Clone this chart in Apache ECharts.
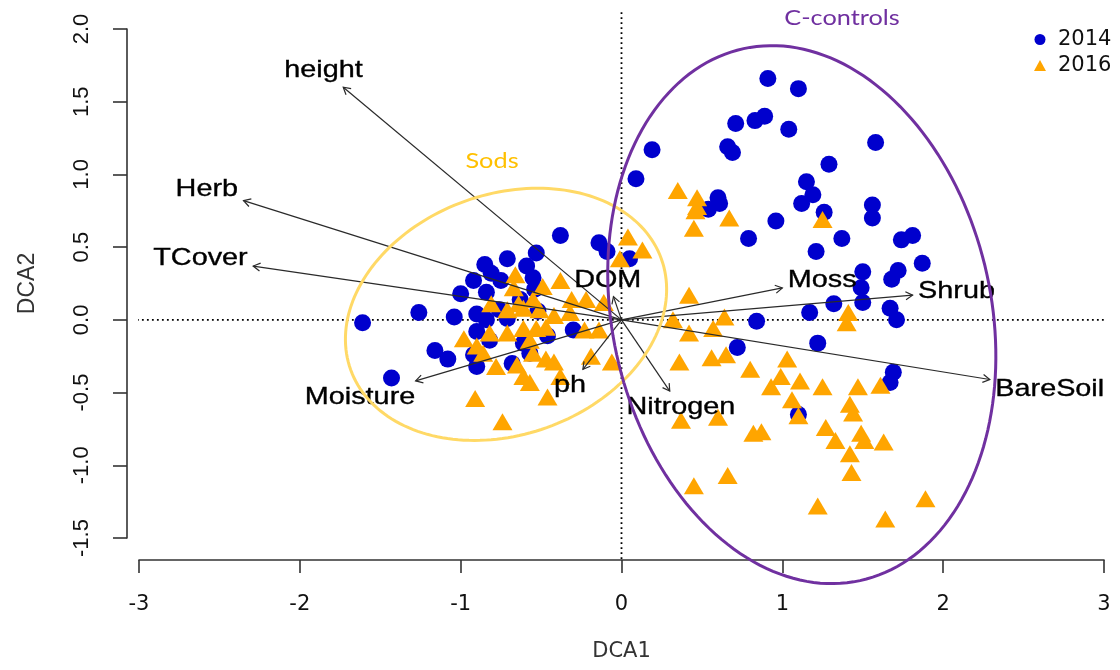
<!DOCTYPE html>
<html>
<head>
<meta charset="utf-8">
<title>DCA ordination</title>
<script src="https://cdn.jsdelivr.net/npm/echarts@6/dist/echarts.min.js"></script>
<style>
  html, body { margin: 0; padding: 0; background: #ffffff; }
  #chart { width: 1120px; height: 670px; }
</style>
</head>
<body>
<div id="chart"></div>
<script>
// ---- DCA site scores (DCA1, DCA2) ----
const sites2014 = [
  [0.91,1.66],[1.10,1.59],[0.89,1.40],[0.83,1.37],[0.71,1.35],[1.04,1.31],[0.19,1.17],[0.66,1.19],
  [0.69,1.15],[1.58,1.22],[1.29,1.07],[0.09,0.97],[1.15,0.95],[1.19,0.86],[1.12,0.80],[0.60,0.84],
  [0.61,0.80],[0.54,0.76],[1.26,0.74],[1.56,0.79],[1.56,0.70],[0.96,0.68],[0.79,0.56],[1.37,0.56],
  [1.74,0.55],[1.81,0.58],[1.21,0.47],[1.87,0.39],[1.50,0.33],[1.72,0.34],[1.68,0.28],[1.49,0.22],
  [1.32,0.11],[1.50,0.12],[1.17,0.05],[1.67,0.08],[1.71,0.00],[0.84,-0.01],[1.22,-0.16],[0.72,-0.19],
  [1.69,-0.36],[1.67,-0.43],[1.10,-0.65],[-0.38,0.58],[-0.14,0.53],[-0.09,0.47],[0.05,0.42],
  [-1.61,-0.02],[-1.26,0.05],[-1.04,0.02],[-1.43,-0.40],[-1.16,-0.21],[-1.08,-0.27],[-0.85,0.38],
  [-0.71,0.42],[-0.53,0.46],[-0.59,0.37],[-0.92,0.27],[-1.00,0.18],[-0.81,0.32],[-0.75,0.27],
  [-0.55,0.29],[-0.84,0.19],[-0.90,0.04],[-0.76,0.07],[-0.71,0.01],[-0.30,-0.07],[-0.90,-0.08],
  [-0.82,-0.14],[-0.61,-0.16],[-0.90,-0.32],[-0.68,-0.30],[-0.57,-0.23],[-0.46,-0.11],[-0.52,0.06],
  [-0.84,0.00],[-0.63,0.14],[-0.54,0.21],[-0.92,-0.24]
];
const sites2016 = [
  [0.35,0.89],[0.47,0.84],[0.47,0.78],[0.46,0.75],[0.67,0.70],[0.45,0.63],[1.25,0.69],[0.04,0.57],
  [0.13,0.48],[-0.01,0.42],[0.42,0.17],[0.32,0.00],[0.64,0.02],[1.41,0.05],[1.40,-0.02],[0.42,-0.09],
  [0.57,-0.06],[0.65,-0.24],[0.56,-0.26],[0.36,-0.29],[1.03,-0.27],[0.80,-0.34],[0.99,-0.39],[0.93,-0.46],
  [1.11,-0.42],[1.25,-0.46],[1.47,-0.46],[1.61,-0.45],[1.06,-0.55],[1.42,-0.58],[1.44,-0.64],[1.10,-0.66],
  [0.37,-0.69],[0.60,-0.67],[0.87,-0.77],[0.82,-0.78],[1.27,-0.74],[1.49,-0.78],[1.33,-0.83],[1.51,-0.83],
  [1.63,-0.84],[1.42,-0.92],[1.43,-1.05],[0.66,-1.07],[0.45,-1.14],[1.89,-1.23],[1.22,-1.28],[1.64,-1.37],
  [-0.66,0.31],[-0.38,0.27],[-0.49,0.23],[-0.67,0.22],[-0.31,0.14],[-0.22,0.14],[-0.11,0.12],[-0.81,0.11],
  [-0.64,0.11],[-0.55,0.14],[-0.61,0.08],[-0.51,0.07],[-0.42,0.03],[-0.32,0.05],[-0.71,0.07],[-0.98,-0.13],
  [-0.90,-0.18],[-0.82,-0.09],[-0.71,-0.09],[-0.61,-0.06],[-0.53,-0.06],[-0.57,-0.14],[-0.47,-0.05],
  [-0.23,-0.07],[-0.14,-0.07],[-0.86,-0.23],[-0.78,-0.32],[-0.65,-0.31],[-0.55,-0.23],[-0.47,-0.27],
  [-0.42,-0.29],[-0.19,-0.25],[-0.06,-0.29],[-0.61,-0.39],[-0.57,-0.43],[-0.38,-0.39],[-0.46,-0.53],
  [-0.91,-0.54],[-0.74,-0.70]
];

// ---- fitted environmental vectors (arrow tips) ----
const vectorNames = ['height', 'Herb', 'TCover', 'DOM', 'Moss', 'Shrub', 'BareSoil', 'Nitrogen', 'ph', 'Moisture'];
const vectorX = [-1.73, -2.35, -2.29, -0.05, 1.00, 1.81, 2.29, 0.30, -0.24, -1.28];
const vectorY = [ 1.60,  0.82,  0.37,  0.16, 0.22, 0.17, -0.41, -0.49, -0.34, -0.42];

// ---- axes ----
const xTicks = [-3, -2, -1, 0, 1, 2, 3];
const yTicks = [-1.5, -1.0, -0.5, 0.0, 0.5, 1.0, 1.5, 2.0];
const plotRegionX = [-3.075, 3.075];
const plotRegionY = [-1.644, 2.123];

// ---- group outlines: centre and the two semi-axis vectors (data units) ----
const groupNames = ['Sods', 'C-controls'];
const groupCentres = [[-0.718, 0.038], [1.121, 0.036]];
const groupAxisA = [[0.966, 0.381], [-0.362, 1.829]];
const groupAxisB = [[0.253, -0.779], [1.151, 0.276]];
const groupLabelAt = [[-0.805, 1.096], [1.371, 2.075]];

// ---- styling ----
const BLUE = '#0000CD';
const ORANGE = '#FFA500';
const SODS_COLOR = '#FFD966';
const SODS_TEXT = '#FFC000';
const CTRL_COLOR = '#7030A0';
const INK = '#111111';
const LABEL_FONT_SIZE = 24;
const LABEL_FONT_FAMILY = '"Liberation Sans", Arial, sans-serif';
const LABEL_STRETCH = 1.2;
const LABEL_BOX_H = 22;

const measureCtx = document.createElement('canvas').getContext('2d');
function textWidth(str) {
  measureCtx.font = LABEL_FONT_SIZE + 'px ' + LABEL_FONT_FAMILY;
  return measureCtx.measureText(str).width;
}

// arrows from the origin with an open head; label placed beyond the tip
function renderVector(params, api) {
  const o = api.coord([0, 0]);
  const t = api.coord([api.value(0), api.value(1)]);
  const name = vectorNames[params.dataIndex];
  const dx = t[0] - o[0], dy = t[1] - o[1];
  const ang = Math.atan2(dy, dx);
  const head = 8, spread = Math.PI / 6;
  const p1 = [t[0] - head * Math.cos(ang - spread), t[1] - head * Math.sin(ang - spread)];
  const p2 = [t[0] - head * Math.cos(ang + spread), t[1] - head * Math.sin(ang + spread)];
  const w = textWidth(name) * LABEL_STRETCH;
  const h = LABEL_BOX_H;
  let ox = Math.sign(dx) * (w / 2 + h / 4);
  let oy = 0.75 * h * Math.sign(dy);
  const b = dy / dx;
  const move = oy / b;
  if (isFinite(move) && Math.abs(move) <= Math.abs(ox)) { ox = move; } else { oy = b * ox; }
  return {
    type: 'group',
    children: [
      { type: 'line', shape: { x1: o[0], y1: o[1], x2: t[0], y2: t[1] },
        style: { stroke: '#2a2a2a', lineWidth: 1.2 } },
      { type: 'polyline', shape: { points: [p1, t, p2] },
        style: { stroke: '#2a2a2a', lineWidth: 1.2, fill: null } },
      { type: 'text', x: t[0] + ox, y: t[1] + oy, scaleX: LABEL_STRETCH,
        style: { text: name, fontSize: LABEL_FONT_SIZE, fontFamily: LABEL_FONT_FAMILY,
                 fill: '#000', stroke: '#000', lineWidth: 0.35,
                 align: 'center', verticalAlign: 'middle' } }
    ]
  };
}

// ellipse outline as an affine image of the unit circle in data space
function ellipseRenderer(color) {
  return function (params, api) {
    const c = [api.value(0), api.value(1)];
    const a = [api.value(2), api.value(3)];
    const bv = [api.value(4), api.value(5)];
    const pts = [];
    const n = 180;
    for (let k = 0; k < n; k++) {
      const th = (k / n) * Math.PI * 2;
      const cs = Math.cos(th), sn = Math.sin(th);
      pts.push(api.coord([c[0] + cs * a[0] + sn * bv[0], c[1] + cs * a[1] + sn * bv[1]]));
    }
    return { type: 'polygon', shape: { points: pts },
             style: { fill: 'none', stroke: color, lineWidth: 3 } };
  };
}

function groupLabelRenderer(color) {
  return function (params, api) {
    const p = api.coord([api.value(0), api.value(1)]);
    return { type: 'text', x: p[0], y: p[1], scaleX: 1.15,
             style: { text: api.value(2), fontSize: 22, fontFamily: 'Lato, "Open Sans", sans-serif',
                      fill: color, align: 'center', verticalAlign: 'middle' } };
  };
}

const chart = echarts.init(document.getElementById('chart'), null, { renderer: 'canvas' });

const option = {
  backgroundColor: '#ffffff',
  animation: false,
  grid: { left: 139, right: 16, top: 29, bottom: 132, containLabel: false, outerBoundsMode: 'none' },
  legend: {
    orient: 'vertical', left: 1029, top: 24,
    itemWidth: 12, itemHeight: 11, itemGap: 5,
    data: [{ name: '2014', icon: 'circle' }, { name: '2016', icon: 'triangle' }],
    textStyle: { fontFamily: '"DejaVu Sans", sans-serif', fontSize: 21, color: INK,
                 lineHeight: 21, padding: [0, 0, 0, 7] },
    selectedMode: false
  },
  xAxis: {
    type: 'value', min: xTicks[0], max: xTicks[xTicks.length - 1], interval: 1,
    offset: 22,
    name: 'DCA1', nameLocation: 'middle', nameGap: 81,
    nameTextStyle: { fontFamily: '"DejaVu Sans", sans-serif', fontSize: 21, color: '#333' },
    axisLine: { show: true, onZero: false, lineStyle: { color: '#333', width: 1.6 } },
    axisTick: { show: true, length: 13, lineStyle: { color: '#333', width: 1.6 } },
    axisLabel: { show: true, margin: 34, fontFamily: '"DejaVu Sans", sans-serif', fontSize: 21,
                 color: INK, showMinLabel: true, showMaxLabel: true,
                 formatter: v => String(v) },
    splitLine: { show: false }
  },
  yAxis: {
    type: 'value', min: yTicks[0], max: yTicks[yTicks.length - 1], interval: 0.5,
    offset: 12,
    name: 'DCA2', nameLocation: 'middle', nameGap: 88, nameRotate: 90,
    nameTextStyle: { fontFamily: '"Liberation Sans", Arial, sans-serif', fontSize: 23, color: '#333' },
    axisLine: { show: true, onZero: false, lineStyle: { color: '#333', width: 1.6 } },
    axisTick: { show: true, length: 14, lineStyle: { color: '#333', width: 1.6 } },
    axisLabel: { show: true, rotate: 90, margin: 34, fontFamily: '"Liberation Sans", Arial, sans-serif',
                 fontSize: 22, color: INK, showMinLabel: true, showMaxLabel: true,
                 formatter: v => v.toFixed(1) },
    splitLine: { show: false }
  },
  series: [
    { name: 'zeroH', type: 'line', clip: false, silent: true, symbol: 'none', z: 1,
      data: [[plotRegionX[0], 0], [plotRegionX[1], 0]],
      lineStyle: { color: '#000', width: 1.8, type: [1.8, 3.2] } },
    { name: 'zeroV', type: 'line', clip: false, silent: true, symbol: 'none', z: 1,
      data: [[0, plotRegionY[0]], [0, plotRegionY[1]]],
      lineStyle: { color: '#000', width: 1.8, type: [1.8, 3.2] } },
    { name: '2014', type: 'scatter', data: sites2014, symbol: 'circle', symbolSize: 17, z: 2,
      itemStyle: { color: BLUE, opacity: 1 } },
    { name: '2016', type: 'scatter', data: sites2016, symbol: 'triangle', symbolSize: [20, 17], z: 3,
      itemStyle: { color: ORANGE, opacity: 1 } },
    { name: 'vectors', type: 'custom', clip: false, silent: true, z: 4,
      data: vectorX.map((x, i) => [x, vectorY[i]]),
      renderItem: renderVector },
    { name: 'Sods outline', type: 'custom', clip: false, silent: true, z: 5,
      data: [[groupCentres[0][0], groupCentres[0][1], groupAxisA[0][0], groupAxisA[0][1], groupAxisB[0][0], groupAxisB[0][1]]],
      renderItem: ellipseRenderer(SODS_COLOR) },
    { name: 'C-controls outline', type: 'custom', clip: false, silent: true, z: 5,
      data: [[groupCentres[1][0], groupCentres[1][1], groupAxisA[1][0], groupAxisA[1][1], groupAxisB[1][0], groupAxisB[1][1]]],
      renderItem: ellipseRenderer(CTRL_COLOR) },
    { name: 'Sods label', type: 'custom', clip: false, silent: true, z: 5,
      data: [[groupLabelAt[0][0], groupLabelAt[0][1], groupNames[0]]],
      dimensions: ['x', 'y', { name: 'label', type: 'ordinal' }],
      renderItem: groupLabelRenderer(SODS_TEXT) },
    { name: 'C-controls label', type: 'custom', clip: false, silent: true, z: 5,
      data: [[groupLabelAt[1][0], groupLabelAt[1][1], groupNames[1]]],
      dimensions: ['x', 'y', { name: 'label', type: 'ordinal' }],
      renderItem: groupLabelRenderer(CTRL_COLOR) }
  ]
};

chart.setOption(option);
</script>
</body>
</html>
